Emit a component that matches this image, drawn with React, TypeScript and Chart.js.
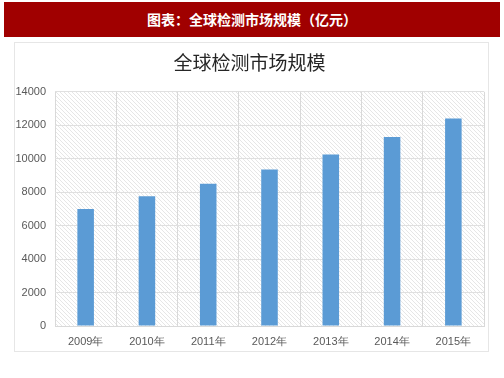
import React, { useEffect, useRef } from "react";
import { Chart, registerables } from "chart.js";

Chart.register(...registerables);

const categories = ["2009年", "2010年", "2011年", "2012年", "2013年", "2014年", "2015年"];
const marketSize = [7000, 7750, 8500, 9350, 10250, 11300, 12400];
const yTicks = [0, 2000, 4000, 6000, 8000, 10000, 12000, 14000];

const hatchPlugin = {
  id: "hatch",
  beforeDraw(chart: any) {
    const { ctx, chartArea } = chart;
    if (!chartArea) return;
    const p = document.createElement("canvas");
    p.width = 4;
    p.height = 4;
    const pc = p.getContext("2d")!;
    pc.fillStyle = "#ffffff";
    pc.fillRect(0, 0, 4, 4);
    pc.strokeStyle = "#e6e6e6";
    pc.lineWidth = 1;
    pc.beginPath();
    pc.moveTo(0, 0);
    pc.lineTo(4, 4);
    pc.moveTo(-1, 3);
    pc.lineTo(1, 5);
    pc.moveTo(3, -1);
    pc.lineTo(5, 1);
    pc.stroke();
    const pat = ctx.createPattern(p, "repeat");
    ctx.save();
    ctx.fillStyle = pat;
    ctx.fillRect(chartArea.left, chartArea.top, chartArea.right - chartArea.left, chartArea.bottom - chartArea.top);
    ctx.restore();
  },
};

export default function App() {
  const ref = useRef<HTMLCanvasElement>(null);
  useEffect(() => {
    if (!ref.current) return;
    const chart = new Chart(ref.current, {
      type: "bar",
      data: {
        labels: categories,
        datasets: [
          {
            data: marketSize,
            backgroundColor: "#5b9bd5",
            barPercentage: 0.27,
            categoryPercentage: 1,
          },
        ],
      },
      options: {
        animation: false,
        responsive: false,
        maintainAspectRatio: false,
        layout: { padding: { left: 0, right: 4, top: 8, bottom: 0 } },
        plugins: {
          legend: { display: false },
          tooltip: { enabled: false },
          title: {
            display: true,
            text: "全球检测市场规模",
            color: "#262626",
            font: { size: 19, family: "'Noto Sans CJK SC'", weight: "normal" },
            padding: { top: 0, bottom: 18 },
          },
        },
        scales: {
          x: {
            grid: { color: "#d9d9d9", offset: true, drawTicks: false },
            border: { color: "#d9d9d9" },
            afterFit(axis: any) {
              axis.height = 25;
            },
            ticks: {
              color: "#595959",
              font: { size: 11, family: "'Liberation Sans'" },
              padding: 9,
            },
          },
          y: {
            min: 0,
            max: 14000,
            afterBuildTicks(axis: any) {
              axis.ticks = yTicks.map((v) => ({ value: v }));
            },
            afterFit(axis: any) {
              axis.width = 40;
            },
            grid: { color: "#e0e0e0", drawTicks: false },
            border: { display: false },
            ticks: {
              color: "#595959",
              font: { size: 11, family: "'Liberation Sans'" },
              padding: 9,
              callback: (v: any) => String(v),
            },
          },
        },
      },
      plugins: [hatchPlugin],
    });
    return () => chart.destroy();
  }, []);

  return (
    <div style={{ position: "fixed", left: 0, top: 0, width: 504, height: 378, background: "#fff", overflow: "hidden" }}>
      <div
        style={{
          position: "absolute",
          left: 4,
          top: 2,
          width: 496,
          height: 35,
          background: "#a00000",
          color: "#fff",
          fontFamily: "'Noto Sans CJK SC'",
          fontWeight: "bold",
          fontSize: 14,
          lineHeight: "35px",
          textAlign: "center",
        }}
      >
        图表：全球检测市场规模（亿元）
      </div>
      <div
        style={{
          position: "absolute",
          left: 14,
          top: 42,
          width: 475,
          height: 310,
          border: "1px solid #e6e6e6",
          boxSizing: "border-box",
        }}
      />
      <canvas
        ref={ref}
        width={473}
        height={308}
        style={{ position: "absolute", left: 15, top: 43, display: "block" }}
      />
    </div>
  );
}
